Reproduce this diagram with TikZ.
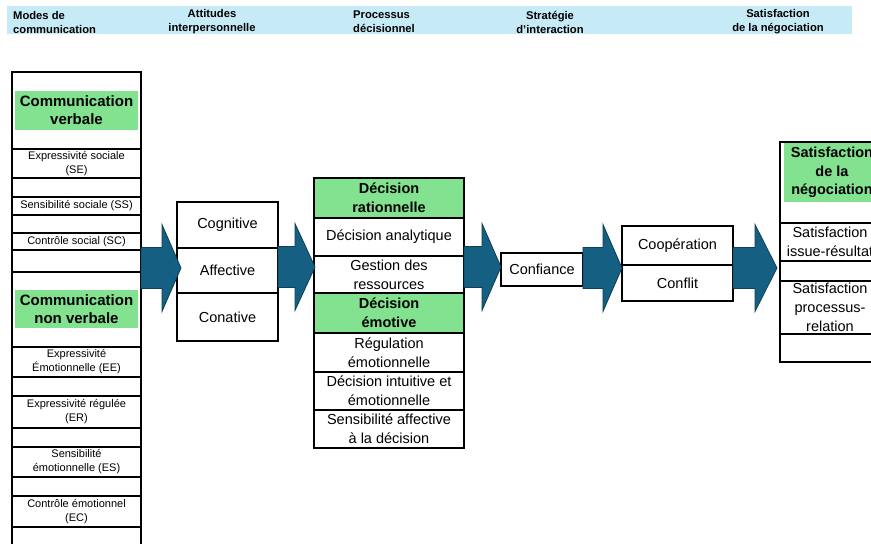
\documentclass[tikz,border=0pt]{standalone}
\usepackage{fontspec}
\setmainfont{Liberation Sans}
\usetikzlibrary{calc}
\definecolor{hdrblue}{HTML}{C6EAF6}
\definecolor{grn}{HTML}{83E28F}
\definecolor{arr}{HTML}{156082}
\definecolor{arrline}{HTML}{0E3F56}
\tikzset{
 cell/.style={draw=black, line width=1.1pt, fill=white, inner sep=0pt, align=center, anchor=center},
 small/.style={font=\fontsize{11}{14}\selectfont},
 main/.style={font=\fontsize{14.5}{19}\selectfont},
 gbold/.style={fill=grn, inner sep=0pt, align=center, font=\bfseries\fontsize{14.5}{18.5}\selectfont},
 gcell/.style={fill=grn, font=\bfseries\fontsize{14.5}{19}\selectfont},
 hdr/.style={font=\bfseries\fontsize{11.2}{14}\selectfont, inner sep=0pt},
 blk/.style={fill=arr, draw=arrline, line width=0.8pt, line join=miter},
}
\newcommand\cellbox[7]{\node[cell,#6,minimum width={#3-#2},minimum height={#5-#4}] (#1) at ({(#2+#3)/2},{(#4+#5)/2}) {#7};}
\newcommand\blockarrow[5]{% name, start x, head base x, tip x, centre y
 \draw[blk] (#2,#5-20.5) coordinate (#1s) -- (#3,#5-20.5) -- (#3,#5-43.5) -- (#4,#5) coordinate (#1t) -- (#3,#5+43.5) -- (#3,#5+20.5) -- (#2,#5+20.5) -- cycle;}
\begin{document}
\begin{tikzpicture}[x=1pt,y=-1pt]
\useasboundingbox (0,0) rectangle (871,544);
\clip (0,0) rectangle (871,544);
% header band
\node[fill=hdrblue, minimum width=845, minimum height=28, inner sep=0pt] (band) at (429.5,20) {};
\node[hdr, anchor=west, align=left] (h1) at (13,22) {Modes de\\communication};
\node[hdr, align=center] (h2) at (212,22) {Attitudes\\interpersonnelle};
\node[hdr, anchor=west, align=left] (h3) at (353,22) {Processus\\décisionnel};
\node[hdr, align=center] (h4) at (550,22) {Stratégie\\d’interaction};
\node[hdr, align=center] (h5) at (778,22) {Satisfaction\\de la négociation};
% left column
\cellbox{l1}{12}{141}{72}{149}{small}{}
\node[gbold, font=\bfseries\fontsize{15}{18.5}\selectfont, minimum width=123, minimum height=39] (gv) at (76.5,110) {Communication\\verbale};
\cellbox{se}{12}{141}{149}{178}{small}{Expressivité sociale\\(SE)}
\cellbox{l2}{12}{141}{178}{197}{small}{}
\cellbox{ss}{12}{141}{197}{215}{small}{Sensibilité sociale (SS)}
\cellbox{l3}{12}{141}{215}{233}{small}{}
\cellbox{sc}{12}{141}{233}{250}{small}{Contrôle social (SC)}
\cellbox{l4}{12}{141}{250}{272}{small}{}
\cellbox{l5}{12}{141}{272}{347}{small}{}
\node[gbold, font=\bfseries\fontsize{15}{18.5}\selectfont, minimum width=123, minimum height=38] (gnv) at (76.5,309) {Communication\\non verbale};
\cellbox{ee}{12}{141}{347}{377}{small}{Expressivité\\Émotionnelle (EE)}
\cellbox{l6}{12}{141}{377}{396}{small}{}
\cellbox{er}{12}{141}{396}{428}{small}{Expressivité régulée\\(ER)}
\cellbox{l7}{12}{141}{428}{447}{small}{}
\cellbox{es}{12}{141}{447}{477}{small}{Sensibilité\\émotionnelle (ES)}
\cellbox{l8}{12}{141}{477}{496}{small}{}
\cellbox{ec}{12}{141}{496}{527}{small}{Contrôle émotionnel\\(EC)}
\cellbox{l9}{12}{141}{527}{560}{small}{}
% attitudes
\cellbox{cog}{177}{278}{202}{248}{main}{Cognitive}
\cellbox{aff}{177}{278}{248}{293}{main}{Affective}
\cellbox{con}{177}{278}{293}{341}{main}{Conative}
% decision process
\cellbox{dr}{314}{464}{178}{218}{gcell}{Décision\\rationnelle}
\cellbox{da}{314}{464}{218}{256}{main}{Décision analytique}
\cellbox{gr}{314}{464}{256}{293}{main}{Gestion des\\ressources}
\cellbox{de}{314}{464}{293}{333}{gcell}{Décision\\émotive}
\cellbox{re}{314}{464}{333}{372}{main}{Régulation\\émotionnelle}
\cellbox{di}{314}{464}{372}{410}{main}{Décision intuitive et\\émotionnelle}
\cellbox{sa}{314}{464}{410}{448}{main}{Sensibilité affective\\à la décision}
% confiance
\cellbox{cf}{501}{583}{253}{286}{main}{Confiance}
% strategy
\cellbox{coop}{622}{733}{226}{265}{main}{Coopération}
\cellbox{conf}{622}{733}{265}{301}{main}{Conflit}
% satisfaction
\cellbox{r1}{780}{880}{142}{223}{main}{}
\node[gbold, minimum width=96, minimum height=59] (gs) at (832,172.5) {Satisfaction\\de la\\négociation};
\cellbox{ir}{780}{880}{223}{261}{main}{Satisfaction\\issue-résultat}
\cellbox{r2}{780}{880}{261}{281}{main}{}
\cellbox{pr}{780}{880}{281}{334}{main}{Satisfaction\\processus-\\relation}
\cellbox{r3}{780}{880}{334}{362}{main}{}
% block arrows
\blockarrow{a1}{141}{162}{181}{268}
\blockarrow{a2}{278}{295}{315}{267}
\blockarrow{a3}{464}{482}{501}{267}
\blockarrow{a4}{583}{603}{622}{268}
\blockarrow{a5}{733}{755}{777}{268}
\end{tikzpicture}
\end{document}
